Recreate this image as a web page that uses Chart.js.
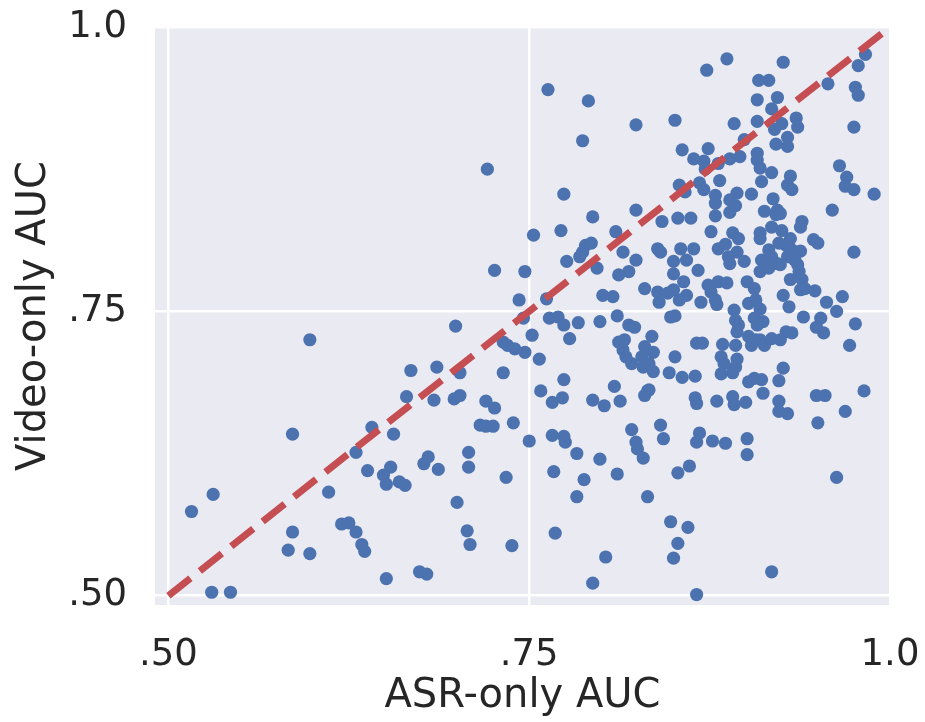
<!DOCTYPE html>
<html>
<head>
<meta charset="utf-8">
<script src="https://cdn.jsdelivr.net/npm/chart.js@4.4.1/dist/chart.umd.min.js"></script>
<style>
  html, body { margin: 0; padding: 0; background: #fff; }
  #wrap { width: 925px; height: 722px; }
</style>
</head>
<body>
<div id="wrap"><canvas id="scatter" width="925" height="722"></canvas></div>
<script>
// ASR-only AUC (x) and Video-only AUC (y), one entry per point
const asrAuc = [
  .598,.699,.732,.735,.740,.747,.668,.686,.702,.732,
  .665,.684,.698,.702,.720,.726,.716,.720,.725,.739,
  .750,.586,.641,.656,.630,.638,.649,.654,.651,.660,
  .664,.677,.680,.687,.708,.708,.734,.611,.700,.531,
  .516,.586,.583,.598,.620,.625,.630,.634,.636,.707,
  .709,.738,.651,.674,.679,.530,.543,.721,.726,.747,
  .743,.746,.763,.791,.824,.787,.774,.794,.824,.887,
  .873,.909,.908,.851,.892,.908,.899,.856,.874,.864,
  .871,.872,.881,.889,.896,.908,.908,.910,.911,.882,
  .854,.858,.868,.871,.879,.879,.889,.894,.893,.889,
  .904,.913,.879,.853,.862,.842,.926,.983,.978,.957,
  .976,.978,.916,.922,.918,.935,.936,.925,.920,.929,
  .929,.921,.975,.918,.931,.929,.932,.965,.970,.969,
  .975,.989,.919,.922,.960,.939,.753,.772,.810,.789,
  .793,.787,.785,.776,.797,.815,.824,.812,.819,.830,
  .762,.801,.808,.764,.770,.774,.784,.799,.811,.819,
  .823,.752,.778,.757,.812,.816,.815,.817,.821,.829,
  .830,.774,.758,.766,.773,.794,.802,.809,.813,.832,
  .876,.891,.895,.910,.910,.839,.841,.855,.864,.881,
  .886,.894,.888,.899,.889,.850,.859,.867,.850,.857,
  .911,.910,.839,.840,.846,.850,.859,.854,.869,.874,
  .881,.887,.876,.879,.880,.901,.906,.848,.851,.892,
  .893,.895,.894,.902,.907,.910,.906,.912,.908,.835,
  .836,.828,.833,.836,.851,.866,.870,.884,.893,.883,
  .885,.894,.893,.891,.883,.902,.907,.904,.910,.847,
  .856,.865,.902,.906,.911,.833,.830,.912,.865,.866,
  .880,.891,.892,.900,.921,.924,.938,.918,.925,.931,
  .928,.923,.947,.950,.938,.932,.934,.929,.916,.918,
  .922,.975,.916,.924,.936,.937,.931,.939,.938,.941,
  .948,.926,.930,.956,.967,.963,.940,.952,.949,.954,
  .976,.972,.913,.918,.924,.928,.932,.926,.923,.923,
  .949,.955,.982,.969,.923,.929,.766,.774,.775,.783,
  .799,.821,.824,.825,.829,.767,.788,.811,.783,.832,
  .768,.803,.794,.841,.843,.868,.866,.877,.886,.901,
  .901,.853,.861,.848,.860,.853,.850,.866,.950,.963,
  .918
];
const videoAuc = [
  .725,.737,.723,.720,.717,.714,.698,.701,.696,.696,
  .675,.672,.673,.676,.671,.665,.650,.649,.649,.652,
  .636,.642,.648,.642,.626,.610,.606,.613,.598,.600,
  .597,.616,.622,.611,.626,.613,.604,.591,.582,.589,
  .574,.556,.540,.537,.563,.564,.556,.545,.539,.557,
  .545,.544,.515,.521,.519,.503,.503,.875,.786,.785,
  .760,.744,.945,.935,.914,.900,.853,.833,.839,.972,
  .962,.953,.936,.918,.915,.917,.901,.892,.893,.884,
  .882,.875,.880,.884,.886,.889,.883,.876,.864,.865,
  .861,.855,.863,.857,.852,.845,.848,.854,.843,.837,
  .853,.838,.834,.832,.832,.829,.969,.976,.966,.950,
  .947,.940,.953,.938,.928,.920,.912,.915,.910,.903,
  .895,.897,.912,.872,.869,.861,.857,.878,.868,.860,
  .857,.853,.849,.839,.839,.829,.817,.821,.820,.808,
  .810,.802,.798,.794,.788,.802,.795,.782,.785,.770,
  .761,.764,.763,.744,.745,.738,.740,.741,.746,.738,
  .736,.729,.726,.708,.723,.725,.716,.710,.704,.701,
  .719,.690,.680,.670,.674,.672,.667,.684,.671,.680,
  .820,.819,.814,.819,.814,.805,.802,.805,.805,.805,
  .809,.802,.798,.794,.792,.794,.795,.786,.783,.776,
  .795,.785,.767,.758,.766,.769,.764,.760,.758,.773,
  .776,.775,.767,.760,.756,.776,.770,.745,.746,.751,
  .742,.738,.732,.757,.760,.752,.744,.741,.738,.728,
  .714,.710,.704,.697,.710,.722,.722,.721,.720,.710,
  .704,.708,.701,.696,.695,.728,.725,.720,.725,.696,
  .692,.693,.688,.691,.690,.681,.676,.678,.674,.669,
  .671,.675,.668,.670,.835,.836,.824,.824,.821,.814,
  .808,.810,.813,.810,.803,.804,.795,.798,.804,.798,
  .792,.802,.788,.791,.791,.785,.778,.778,.769,.770,
  .768,.764,.754,.758,.763,.750,.745,.744,.736,.731,
  .739,.720,.720,.726,.725,.732,.731,.700,.689,.671,
  .676,.676,.680,.662,.662,.660,.641,.640,.635,.625,
  .620,.646,.635,.629,.621,.609,.602,.607,.587,.587,
  .555,.534,.511,.650,.638,.643,.635,.636,.634,.638,
  .624,.608,.614,.565,.560,.546,.533,.501,.652,.604,
  .521
];

// y = x reference line ends
const diagonal = [0.5, 1.0];

const tickValues = [0.5, 0.75, 1.0];
const tickLabels = [".50", ".75", "1.0"];

const textColor = "#262626";
Chart.defaults.font.family = "DejaVu Sans";

// grey plot background like seaborn darkgrid
const plotBg = {
    id: "plotBg",
    beforeDraw(chart) {
        const { ctx, chartArea: a } = chart;
        ctx.save();
        ctx.fillStyle = "#EAEAF2";
        ctx.fillRect(a.left, a.top, a.right - a.left, a.bottom - a.top);
        ctx.restore();
    }
};

// fixed axis box sizes, no extra room for overhanging tick labels
function fixBox(size, key) {
    return s => {
        s[key] = size;
        s.paddingLeft = 0;
        s.paddingRight = 0;
        s.paddingTop = 0;
        s.paddingBottom = 0;
    };
}

const points = asrAuc.map((x, i) => ({ x: x, y: videoAuc[i] }));

new Chart(document.getElementById("scatter"), {
    type: "scatter",
    data: {
        datasets: [
            {
                type: "line",
                data: diagonal.map(v => ({ x: v, y: v })),
                borderColor: "#C44E52",
                borderWidth: 7,
                borderDash: [28, 12],
                pointRadius: 0,
                fill: false,
                order: 0
            },
            {
                data: points,
                backgroundColor: "#4C72B0",
                borderWidth: 0,
                pointRadius: 6.6,
                pointHoverRadius: 6.6,
                order: 1
            }
        ]
    },
    options: {
        responsive: false,
        animation: false,
        devicePixelRatio: 1,
        layout: { padding: { top: 27, right: 35, bottom: 0, left: 0 } },
        plugins: {
            legend: { display: false },
            tooltip: { enabled: false }
        },
        scales: {
            x: {
                type: "linear",
                min: 0.4907,
                max: 1.0,
                afterBuildTicks: s => { s.ticks = tickValues.map(v => ({ value: v })); },
                afterFit: fixBox(117, "height"),
                ticks: {
                    callback: (v, i) => tickLabels[i],
                    font: { size: 37 },
                    color: textColor,
                    padding: 28,
                    maxRotation: 0,
                    autoSkip: false
                },
                grid: { color: "#ffffff", lineWidth: 2.5, drawTicks: false },
                border: { display: false },
                title: {
                    display: true,
                    text: "ASR-only AUC",
                    font: { size: 40 },
                    color: textColor,
                    padding: { top: 0, bottom: 1 }
                }
            },
            y: {
                type: "linear",
                min: 0.4918,
                max: 1.0,
                afterBuildTicks: s => { s.ticks = tickValues.map(v => ({ value: v })); },
                afterFit: fixBox(155, "width"),
                ticks: {
                    callback: (v, i) => tickLabels[i],
                    font: { size: 37 },
                    color: textColor,
                    padding: 28,
                    autoSkip: false
                },
                grid: { color: "#ffffff", lineWidth: 2.5, drawTicks: false },
                border: { display: false },
                title: {
                    display: true,
                    text: "Video-only AUC",
                    font: { size: 40 },
                    color: textColor,
                    padding: { top: 11, bottom: 0 }
                }
            }
        }
    },
    plugins: [plotBg]
});
</script>
</body>
</html>
